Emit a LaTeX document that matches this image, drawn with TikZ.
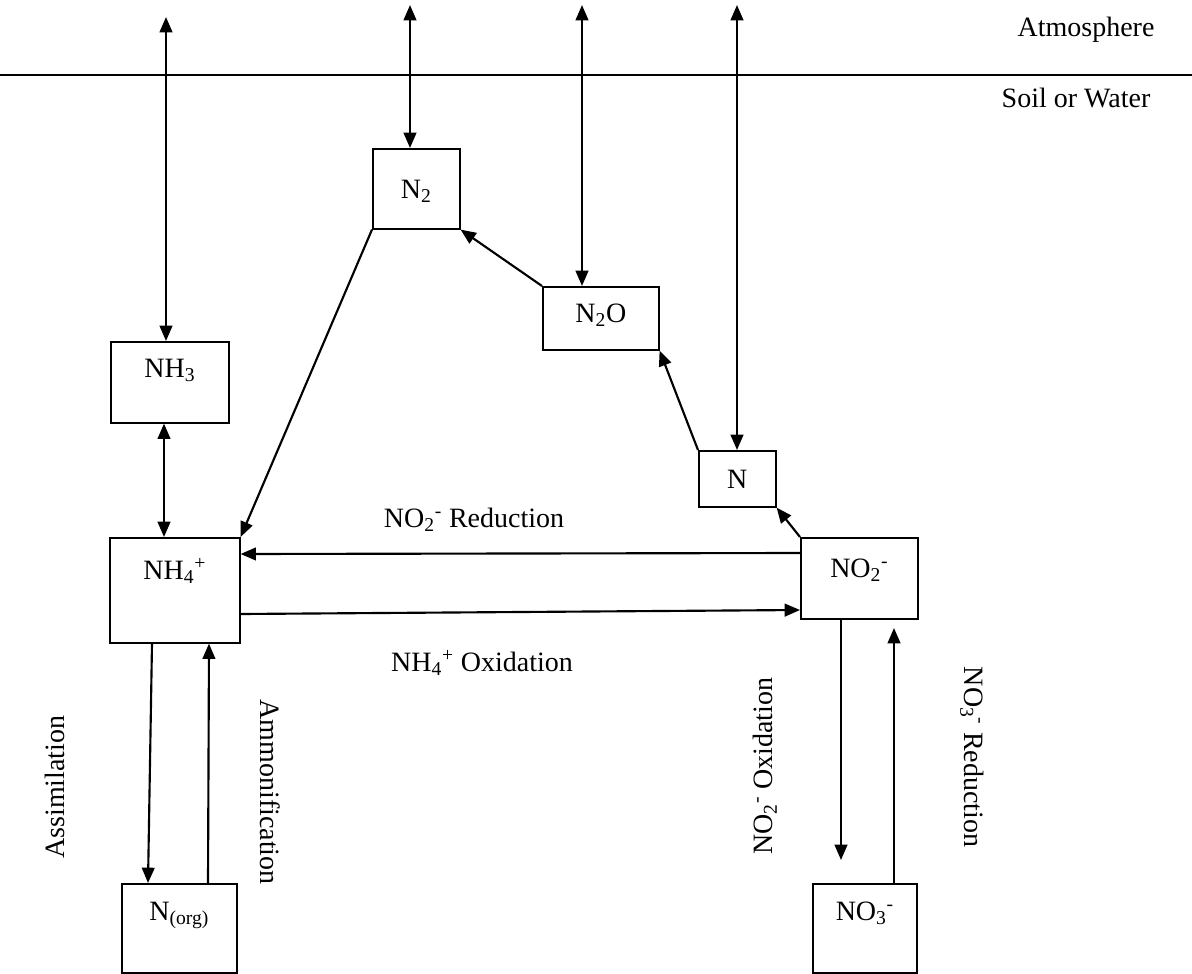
\documentclass[tikz,border=0pt]{standalone}
\usepackage{fontspec}
\setmainfont{Liberation Serif}
\usetikzlibrary{arrows.meta}
\tikzset{
  x=0.75pt, y=-0.75pt,
  bx/.style n args={4}{draw, line width=1.2pt, anchor=north west, inner xsep=0pt, inner ysep=0pt,
    minimum width=#1, minimum height=0pt, text height=#3, text depth=#4},
  conn/.style={line width=1.6pt, -{Triangle[length=11.5pt,width=9.5pt]}},
  dconn/.style={line width=1.6pt, {Triangle[length=11.5pt,width=9.5pt]}-{Triangle[length=11.5pt,width=9.5pt]}},
  lbl/.style={inner sep=0pt}
}
\begin{document}
\begin{tikzpicture}[font=\fontsize{21}{25}\selectfont]
\useasboundingbox (0,0) rectangle (1192,974);
% boundary line
\coordinate (l0) at (0,75);
\coordinate (l1) at (1192,75);
\draw[line width=1.7pt] (l0) -- (l1);
\node[lbl] (atm) at (1086,30) {Atmosphere};
\node[lbl] (soil) at (1076,98) {Soil or Water};
% boxes
\node[bx={65.25pt}{60pt}{37.5pt}{22.5pt}] (n2) at (372,148) {N\textsubscript{2}};
\node[bx={87pt}{47.25pt}{27pt}{20.25pt}] (n2o) at (542,286) {N\textsubscript{2}O};
\node[bx={88.5pt}{60.75pt}{27pt}{33.75pt}] (nh3) at (110,341) {NH\textsubscript{3}};
\node[bx={57.75pt}{42pt}{28.5pt}{13.5pt}] (n) at (698,450) {N};
\node[bx={97.5pt}{78.75pt}{31.5pt}{47.25pt}] (nh4) at (109,537) {NH\textsubscript{4}\textsuperscript{+}};
\node[bx={87.75pt}{60.75pt}{30pt}{30.75pt}] (no2) at (800,537) {NO\textsubscript{2}\textsuperscript{-}};
\node[bx={86.25pt}{66.75pt}{27.75pt}{39pt}] (norg) at (121,883) {N\textsubscript{(org)}};
\node[bx={78pt}{66.75pt}{27.75pt}{39pt}] (no3) at (812,883) {NO\textsubscript{3}\textsuperscript{-}};
% atmosphere exchange
\coordinate (t1) at (166,17);
\coordinate (t2) at (410,5);
\coordinate (t3) at (582,5);
\coordinate (t4) at (737,5);
\draw[dconn] (t1) -- (t1 |- nh3.north);
\draw[dconn] (t2) -- (t2 |- n2.north);
\draw[dconn] (t3) -- (t3 |- n2o.north);
\draw[dconn] (t4) -- (t4 |- n.north);
% internal
\draw[dconn] ([xshift=40.5pt]nh3.south west) -- ([xshift=41.25pt]nh4.north west);
\draw[conn] (n2.south west) -- (nh4.north east);
\draw[conn] (n2o.north west) -- (n2.south east);
\draw[conn] (n.north west) -- (n2o.south east);
\draw[conn] (no2.north west) -- (n.south east);
\draw[conn] ([yshift=-12pt]no2.north west) -- ([yshift=-12.75pt]nh4.north east);
\draw[conn] ([yshift=-57.75pt]nh4.north east) -- ([yshift=-54.75pt]no2.north west);
\draw[conn] ([xshift=32.25pt]nh4.south west) -- ([xshift=20.25pt]norg.north west);
\draw[conn] ([xshift=65.25pt]norg.north west) -- ([xshift=75pt]nh4.south west);
\coordinate (e1) at (841,860);
\coordinate (e2) at (894,628);
\draw[conn] ([xshift=30.75pt]no2.south west) -- (e1);
\draw[conn] ([xshift=61.5pt]no3.north west) -- (e2);
% labels
\node[lbl] (lred) at (474,520) {NO\textsubscript{2}\textsuperscript{-} Reduction};
\node[lbl] (lox) at (482,663) {NH\textsubscript{4}\textsuperscript{+} Oxidation};
\node[lbl, rotate=90] (lass) at (55,787) {Assimilation};
\node[lbl, rotate=-90] (lamm) at (270,792) {Ammonification};
\node[lbl, rotate=90] (lnox) at (765,766) {NO\textsubscript{2}\textsuperscript{-} Oxidation};
\node[lbl, rotate=-90] (lnred) at (972,757) {NO\textsubscript{3}\textsuperscript{-} Reduction};
\end{tikzpicture}
\end{document}
